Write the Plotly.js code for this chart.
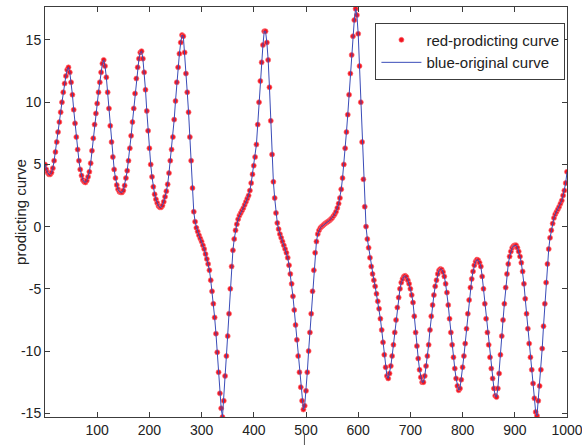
<!DOCTYPE html>
<html>
<head>
<meta charset="utf-8">
<script src="https://cdn.plot.ly/plotly-3.0.1.min.js"></script>
<style>
html,body{margin:0;padding:0;background:#fff;}
#chart{width:582px;height:445px;}
</style>
</head>
<body>
<div id="chart"></div>
<script>
// sample positions (time index)
var sampleX = [
0,2.5,5,7.5,10,12.5,15,17.5,20,22.5,25,27.5,30,32.5,35,37.5,40,42.5,45,47.5,
50,52.5,55,57.5,60,62.5,65,67.5,70,72.5,75,77.5,80,82.5,85,87.5,90,92.5,95,97.5,
100,102.5,105,107.5,110,112.5,115,117.5,120,122.5,125,127.5,130,132.5,135,137.5,140,142.5,145,147.5,
150,152.5,155,157.5,160,162.5,165,167.5,170,172.5,175,177.5,180,182.5,185,187.5,190,192.5,195,197.5,
200,202.5,205,207.5,210,212.5,215,217.5,220,222.5,225,227.5,230,232.5,235,237.5,240,242.5,245,247.5,
250,252.5,255,257.5,260,262.5,265,267.5,270,272.5,275,277.5,280,282.5,285,287.5,290,292.5,295,297.5,
300,302.5,305,307.5,310,312.5,315,317.5,320,322.5,325,327.5,330,332.5,335,337.5,340,342.5,345,347.5,
350,352.5,355,357.5,360,362.5,365,367.5,370,372.5,375,377.5,380,382.5,385,387.5,390,392.5,395,397.5,
400,402.5,405,407.5,410,412.5,415,417.5,420,422.5,425,427.5,430,432.5,435,437.5,440,442.5,445,447.5,
450,452.5,455,457.5,460,462.5,465,467.5,470,472.5,475,477.5,480,482.5,485,487.5,490,492.5,495,497.5,
500,502.5,505,507.5,510,512.5,515,517.5,520,522.5,525,527.5,530,532.5,535,537.5,540,542.5,545,547.5,
550,552.5,555,557.5,560,562.5,565,567.5,570,572.5,575,577.5,580,582.5,585,587.5,590,592.5,595,597.5,
600,602.5,605,607.5,610,612.5,615,617.5,620,622.5,625,627.5,630,632.5,635,637.5,640,642.5,645,647.5,
650,652.5,655,657.5,660,662.5,665,667.5,670,672.5,675,677.5,680,682.5,685,687.5,690,692.5,695,697.5,
700,702.5,705,707.5,710,712.5,715,717.5,720,722.5,725,727.5,730,732.5,735,737.5,740,742.5,745,747.5,
750,752.5,755,757.5,760,762.5,765,767.5,770,772.5,775,777.5,780,782.5,785,787.5,790,792.5,795,797.5,
800,802.5,805,807.5,810,812.5,815,817.5,820,822.5,825,827.5,830,832.5,835,837.5,840,842.5,845,847.5,
850,852.5,855,857.5,860,862.5,865,867.5,870,872.5,875,877.5,880,882.5,885,887.5,890,892.5,895,897.5,
900,902.5,905,907.5,910,912.5,915,917.5,920,922.5,925,927.5,930,932.5,935,937.5,940,942.5,945,947.5,
950,952.5,955,957.5,960,962.5,965,967.5,970,972.5,975,977.5,980,982.5,985,987.5,990,992.5,995,997.5,
1000
];
// original curve values
var originalY = [
5.0,4.6,4.35,4.2,4.2,4.35,4.7,5.3,6.0,6.8,7.6,8.4,9.2,10.0,10.8,11.5,12.1,12.6,12.8,12.4,
11.6,10.6,9.4,8.3,7.2,6.2,5.3,4.6,4.1,3.75,3.6,3.55,3.7,4.0,4.4,5.1,6.1,7.1,8.2,9.1,
9.9,10.8,11.6,12.4,13.1,13.4,12.9,12.0,10.8,9.5,8.1,6.8,5.6,4.6,3.9,3.35,3.0,2.8,2.75,2.75,
2.9,3.3,3.9,4.5,5.3,6.3,7.3,8.4,9.5,10.7,11.9,12.8,13.5,14.0,14.1,13.5,12.4,11.0,9.3,7.7,
6.3,5.0,4.0,3.2,2.6,2.2,1.9,1.65,1.55,1.55,1.7,2.0,2.4,2.85,3.4,4.3,5.3,6.2,7.2,8.6,
10.1,11.6,12.8,13.9,14.8,15.4,15.3,14.0,12.3,10.8,9.2,7.2,5.3,3.1,1.2,0.4,-0.1,-0.4,-0.7,-0.95,
-1.2,-1.5,-1.8,-2.2,-2.6,-3.0,-3.5,-4.3,-5.2,-6.2,-7.3,-8.6,-10.1,-11.7,-13.4,-14.6,-15.3,-14.0,-12.0,-10.4,
-8.8,-7.0,-5.0,-3.2,-1.9,-1.0,-0.3,0.2,0.6,0.9,1.1,1.3,1.5,1.75,2.0,2.25,2.5,2.9,3.5,4.2,
4.9,5.6,6.6,8.2,10.0,11.7,13.2,14.6,15.7,15.7,14.8,13.4,11.2,8.5,5.8,3.6,2.3,1.1,0.3,-0.2,
-0.6,-0.9,-1.2,-1.5,-1.8,-2.1,-2.5,-3.1,-3.8,-4.6,-5.6,-6.7,-7.9,-9.1,-10.4,-11.7,-12.9,-14.0,-14.7,-14.4,
-13.2,-11.7,-10.0,-8.5,-7.0,-5.2,-3.5,-2.1,-1.2,-0.6,-0.3,-0.1,0.0,0.1,0.2,0.28,0.35,0.42,0.5,0.6,
0.7,0.85,1.0,1.2,1.5,1.85,2.3,3.0,3.9,5.0,6.3,7.6,9.0,10.6,12.3,13.8,15.3,16.6,17.5,17.0,
15.5,12.9,10.0,6.8,3.8,1.6,0.0,-1.0,-1.7,-2.5,-3.2,-3.8,-4.3,-4.8,-5.4,-6.0,-6.6,-7.4,-8.3,-9.3,
-10.3,-11.3,-12.0,-12.2,-11.8,-11.2,-10.4,-9.5,-8.5,-7.5,-6.5,-5.7,-5.0,-4.5,-4.2,-4.0,-3.95,-4.05,-4.3,-4.6,
-5.0,-5.5,-6.1,-7.2,-8.5,-9.6,-10.6,-11.5,-12.1,-12.5,-12.5,-12.0,-11.2,-10.4,-9.5,-8.3,-7.2,-6.3,-5.5,-4.8,
-4.3,-3.8,-3.5,-3.4,-3.45,-3.65,-4.0,-4.6,-5.3,-6.3,-7.4,-8.5,-9.5,-10.5,-11.4,-12.2,-12.8,-13.15,-13.0,-12.3,
-11.3,-10.4,-9.4,-8.2,-7.0,-5.9,-4.9,-4.2,-3.6,-3.1,-2.8,-2.65,-2.7,-2.9,-3.2,-4.0,-5.0,-6.2,-7.4,-8.5,
-9.5,-10.5,-11.4,-12.2,-13.0,-13.6,-13.7,-13.0,-11.8,-10.3,-8.8,-7.5,-6.2,-4.9,-3.8,-3.0,-2.4,-2.0,-1.7,-1.55,
-1.5,-1.5,-1.7,-2.0,-2.4,-2.9,-3.6,-4.6,-5.8,-7.0,-8.2,-9.4,-10.5,-11.5,-12.6,-13.8,-14.9,-15.2,-14.0,-12.8,
-11.5,-9.8,-8.0,-6.2,-4.5,-3.0,-1.8,-0.9,-0.3,0.25,0.7,1.0,1.2,1.4,1.6,1.85,2.1,2.5,2.9,3.5,
4.4
];
// predicted curve coincides with the original in the picture
var predictedY = originalY.slice();

var xTickVals = [100,200,300,400,500,600,700,800,900,1000];
var xTickText = ['100','200','300','400','500','600','700','800','900','1000'];
var yTickVals = [-15,-10,-5,0,5,10,15];
var yTickText = ['-15','-10','-5','0','5','10','15'];

var FONT = 'Liberation Sans, Arial, sans-serif';

var traces = [
  {
    x: sampleX, y: predictedY, type: 'scatter', mode: 'markers',
    name: 'red-prodicting curve',
    marker: {color: '#f0141e', size: 5, line: {color: 'rgba(255,110,120,0.7)', width: 1}}
  },
  {
    x: sampleX, y: originalY, type: 'scatter', mode: 'lines',
    name: 'blue-original curve',
    line: {color: '#3a4cb8', width: 1}
  }
];

var axisCommon = {
  showgrid: false, zeroline: false, showline: true, linecolor: '#3c3c3c', linewidth: 1,
  mirror: 'ticks', ticks: 'inside', ticklen: 5, tickcolor: '#3c3c3c', tickwidth: 1,
  ticklabeloverflow: 'allow',
  tickfont: {family: FONT, size: 14, color: '#222'}
};

var layout = {
  width: 582, height: 445,
  margin: {l: 45, r: 15, t: 7, b: 28, pad: 0},
  paper_bgcolor: '#ffffff', plot_bgcolor: '#ffffff',
  font: {family: FONT, color: '#222'},
  xaxis: Object.assign({}, axisCommon, {
    range: [0, 1000], tickmode: 'array', tickvals: xTickVals, ticktext: xTickText
  }),
  yaxis: Object.assign({}, axisCommon, {
    range: [-15.3, 17.65], tickmode: 'array', tickvals: yTickVals, ticktext: yTickText
  }),
  showlegend: true,
  legend: {
    x: 0.997, xanchor: 'right', y: 0.962, yanchor: 'top',
    bgcolor: '#ffffff', bordercolor: '#3c3c3c', borderwidth: 1,
    itemwidth: 40,
    font: {family: FONT, size: 15, color: '#222'},
    tracegroupgap: 0
  },
  annotations: [
    {text: 'prodicting curve', xref: 'paper', yref: 'paper', x: -0.048, y: 0.5,
     xanchor: 'center', yanchor: 'middle', textangle: -90, showarrow: false,
     font: {family: FONT, size: 15, color: '#222'}}
  ],
  shapes: [
    {type: 'line', xref: 'x', yref: 'paper', x0: 497, x1: 497, y0: -0.04, y1: -0.07,
     line: {color: '#555', width: 1}}
  ]
};

Plotly.newPlot('chart', traces, layout, {displayModeBar: false, staticPlot: true});
</script>
</body>
</html>
